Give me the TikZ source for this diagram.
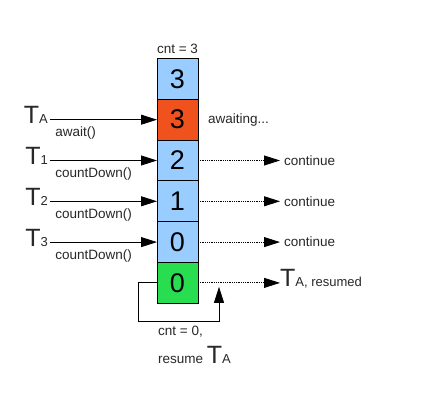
\documentclass[tikz,border=0pt]{standalone}
\usepackage{fontspec}
\setmainfont{Liberation Sans}
\usetikzlibrary{arrows.meta,positioning,calc}
\definecolor{cellblue}{RGB}{153,204,255}
\definecolor{cellred}{RGB}{240,82,30}
\definecolor{cellgreen}{RGB}{40,222,80}
\definecolor{textgray}{RGB}{40,40,40}
\tikzset{
  cell/.style={rectangle,draw=black,line width=0.8pt,fill=cellblue,minimum width=41pt,minimum height=40.8pt,
               inner sep=0pt,outer sep=0pt,font=\fontsize{27}{27}\selectfont},
  rcell/.style={cell,fill=cellred},
  gcell/.style={cell,fill=cellgreen},
  lbl/.style={font=\fontsize{13.5}{15}\selectfont,text=textgray,inner sep=1pt},
  cont/.style={lbl,inner xsep=4pt},
  thr/.style={font=\fontsize{25}{25}\selectfont,text=textgray,inner ysep=0pt,inner xsep=2pt,text depth=9pt},
  fl/.style={-{Triangle[length=16pt,width=10pt]},line width=0.8pt},
  dfl/.style={fl,densely dotted},
}
\newcommand{\thd}[1]{T{\fontsize{13}{14}\selectfont #1}}

\begin{document}
\begin{tikzpicture}[x=1pt,y=1pt]
  \useasboundingbox[fill=white] (0,0) rectangle (421,-414);
  \node[cell] (c1) at (177.5,-78.9) {3};
  \node[rcell,below=0pt of c1] (c2) {3};
  \node[cell,below=0pt of c2] (c3) {2};
  \node[cell,below=0pt of c3] (c4) {1};
  \node[cell,below=0pt of c4] (c5) {0};
  \node[gcell,below=0pt of c5] (c6) {0};
  \node[lbl,above=4pt of c1] (cnt) {cnt = 3};
  \node[lbl,right=9pt of c2] (aw) {awaiting...};
  \node[thr,left=107pt of c2] (ta) {\thd{A}};
  \node[thr,left=107pt of c3] (t1) {\thd{1}};
  \node[thr,left=107pt of c4] (t2) {\thd{2}};
  \node[thr,left=107pt of c5] (t3) {\thd{3}};
  \draw[fl] (ta) -- (c2) node[lbl,pos=0,below right=6pt and 4pt]{await()};
  \draw[fl] (t1) -- (c3) node[lbl,pos=0,below right=6pt and 4pt]{countDown()};
  \draw[fl] (t2) -- (c4) node[lbl,pos=0,below right=6pt and 4pt]{countDown()};
  \draw[fl] (t3) -- (c5) node[lbl,pos=0,below right=6pt and 4pt]{countDown()};
  \node[cont,right=82pt of c3] (k1) {continue};
  \node[cont,right=82pt of c4] (k2) {continue};
  \node[cont,right=82pt of c5] (k3) {continue};
  \node[thr,inner xsep=0pt,right=82pt of c6] (tr) {\thd{A, resumed}};
  \draw[dfl] (c3) -- (k1);
  \draw[dfl] (c4) -- (k2);
  \draw[dfl] (c5) -- (k3);
  \draw[dfl] (c6) -- (tr);
  \coordinate (m) at ($(c6.east)+(21pt,0)$);
  \draw[fl,shorten >=4pt] (c6.west) -- ++(-19pt,0) |- ($(m)+(0,-39pt)$) -- (m);
  \node[lbl,below=22pt of c6.south west,anchor=north west] (z0) {cnt = 0,};
  \node[lbl,below=6pt of z0.south west,anchor=north west] (rs) {resume {\fontsize{25}{25}\selectfont T}{\fontsize{13}{14}\selectfont A}};
\end{tikzpicture}
\end{document}
